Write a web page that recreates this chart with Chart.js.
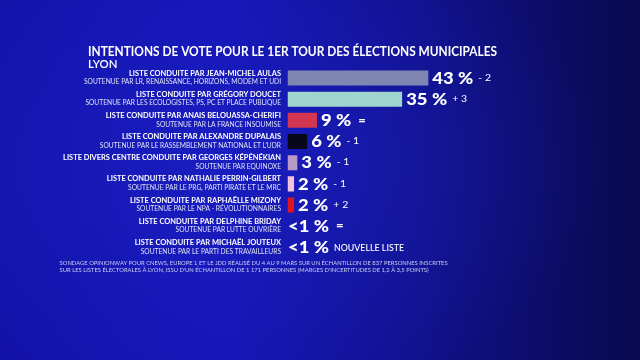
<!DOCTYPE html>
<html><head><meta charset="utf-8">
<script src="https://cdn.jsdelivr.net/npm/chart.js@4"></script>
<style>
html,body{margin:0;padding:0;width:640px;height:360px;overflow:hidden;}
body{background:
 radial-gradient(ellipse 60% 70% at 35% 45%, rgba(30,36,200,0.55) 0%, rgba(30,36,200,0) 100%),
 linear-gradient(to right, #1212a8 0%, #1515b6 35%, #10118c 65%, #0b0c62 88%, #090a50 100%);}
#c{display:block}
</style></head>
<body><canvas id="c" width="640" height="360"></canvas>
<script>
const title = "INTENTIONS DE VOTE POUR LE 1ER TOUR DES ÉLECTIONS MUNICIPALES";
const subtitle = "LYON";
const candidates = [
 "LISTE CONDUITE PAR JEAN-MICHEL AULAS",
 "LISTE CONDUITE PAR GRÉGORY DOUCET",
 "LISTE CONDUITE PAR ANAIS BELOUASSA-CHERIFI",
 "LISTE CONDUITE PAR ALEXANDRE DUPALAIS",
 "LISTE DIVERS CENTRE CONDUITE PAR GEORGES KÉPÉNÉKIAN",
 "LISTE CONDUITE PAR NATHALIE PERRIN-GILBERT",
 "LISTE CONDUITE PAR RAPHAËLLE MIZONY",
 "LISTE CONDUITE PAR DELPHINE BRIDAY",
 "LISTE CONDUITE PAR MICHAËL JOUTEUX"
];
const supports = [
 "SOUTENUE PAR LR, RENAISSANCE, HORIZONS, MODEM ET UDI",
 "SOUTENUE PAR LES ECOLOGISTES, PS, PC ET PLACE PUBLIQUE",
 "SOUTENUE PAR LA FRANCE INSOUMISE",
 "SOUTENUE PAR LE RASSEMBLEMENT NATIONAL ET L'UDR",
 "SOUTENUE PAR EQUINOXE",
 "SOUTENUE PAR LE PRG, PARTI PIRATE ET LE MRC",
 "SOUTENUE PAR LE NPA - RÉVOLUTIONNAIRES",
 "SOUTENUE PAR LUTTE OUVRIÈRE",
 "SOUTENUE PAR LE PARTI DES TRAVAILLEURS"
];
const values = [43, 35, 9, 6, 3, 2, 2, 0.5, 0.5];
const valueLabels = ["43 %", "35 %", "9 %", "6 %", "3 %", "2 %", "2 %", "<1 %", "<1 %"];
const changes = ["- 2", "+ 3", "=", "- 1", "- 1", "- 1", "+ 2", "=", "NOUVELLE LISTE"];
const barColors = ["#7f86b2", "#9fd4cf", "#d23650", "#08081a", "#b89ac6", "#f2c2de", "#e01420", "rgba(0,0,0,0)", "rgba(0,0,0,0)"];
const footnote = [
 "SONDAGE OPINIONWAY POUR CNEWS, EUROPE 1 ET LE JDD RÉALISÉ DU 4 AU 9 MARS SUR UN ÉCHANTILLON DE 837 PERSONNES INSCRITES",
 "SUR LES LISTES ÉLECTORALES À LYON, ISSU D'UN ÉCHANTILLON DE 1 171 PERSONNES (MARGES D'INCERTITUDES DE 1,2 À 3,5 POINTS)"
];

function drawScaled(ctx, t, x, y, font, sx, align, color){
  ctx.save();
  ctx.font = font; ctx.textAlign = align; ctx.textBaseline = 'middle';
  ctx.fillStyle = color || '#fff';
  ctx.translate(x, y); ctx.scale(sx, 1);
  ctx.fillText(t, 0, 0);
  const w = ctx.measureText(t).width * sx;
  ctx.restore();
  return w;
}
function fitScale(ctx, t, font, target){
  ctx.save(); ctx.font = font; const w = ctx.measureText(t).width; ctx.restore();
  return target / w;
}

const labelPlugin = {
  id: 'labels',
  afterDatasetsDraw(chart){
    const ctx = chart.ctx;
    const ys = chart.scales.y, xs = chart.scales.x;
    const meta = chart.getDatasetMeta(0);
    const tFont = '700 13px Lato';
    drawScaled(ctx, title, 88, 52, tFont, fitScale(ctx, title, tFont, 409), 'left');
    const lFont = '600 11px Lato';
    drawScaled(ctx, subtitle, 88, 64.5, lFont, fitScale(ctx, subtitle, lFont, 29.5), 'left');

    const bFont = '700 8px Lato', sFont = '400 7.5px Lato';
    const sxB = fitScale(ctx, candidates[0], bFont, 152);
    const sxS = fitScale(ctx, supports[0], sFont, 197);
    const vFont = '900 16px Lato';
    const sxV = fitScale(ctx, valueLabels[0], vFont, 41);
    const cFont = '400 10px Lato', nFont = '500 9.5px Lato';
    const sxN = fitScale(ctx, 'NOUVELLE LISTE', nFont, 70);
    candidates.forEach((c, i) => {
      const y = ys.getPixelForValue(i);
      drawScaled(ctx, c, 281, y - 5, bFont, sxB, 'right');
      drawScaled(ctx, supports[i], 281, y + 3.8, sFont, sxS, 'right', '#dfe2f6');
      const bar = meta.data[i];
      const x = values[i] < 1 ? xs.getPixelForValue(0) + 0.5 : bar.x + 4;
      const w = drawScaled(ctx, valueLabels[i], x, y + 0.5, vFont, sxV, 'left');
      const ch = changes[i];
      if (ch.length > 3) drawScaled(ctx, ch, x + w + 5, y + 0.5, nFont, sxN, 'left');
      else if (ch === '=') drawScaled(ctx, ch, x + w + 7, y, '700 13px Lato', 1, 'left');
      else drawScaled(ctx, ch, x + w + 5, y - 0.5, cFont, 1.05, 'left');
    });
    const fFont = '400 6px Lato';
    const sxF = fitScale(ctx, footnote[0], fFont, 388);
    drawScaled(ctx, footnote[0], 59.6, 263, fFont, sxF, 'left', '#c9cdee');
    drawScaled(ctx, footnote[1], 59.6, 270.5, fFont, sxF, 'left', '#c9cdee');
  }
};

new Chart(document.getElementById('c'), {
  type: 'bar',
  data: {
    labels: candidates,
    datasets: [{ data: values, backgroundColor: barColors, barPercentage: 0.71, categoryPercentage: 1, borderWidth: 0 }]
  },
  options: {
    indexAxis: 'y',
    responsive: false,
    animation: false,
    layout: { padding: { left: 287.5, right: 25, top: 67.4, bottom: 102 } },
    scales: {
      x: { min: 0, max: 100, display: false },
      y: { display: false }
    },
    plugins: { legend: { display: false }, tooltip: { enabled: false } }
  },
  plugins: [labelPlugin]
});
</script>
</body></html>
